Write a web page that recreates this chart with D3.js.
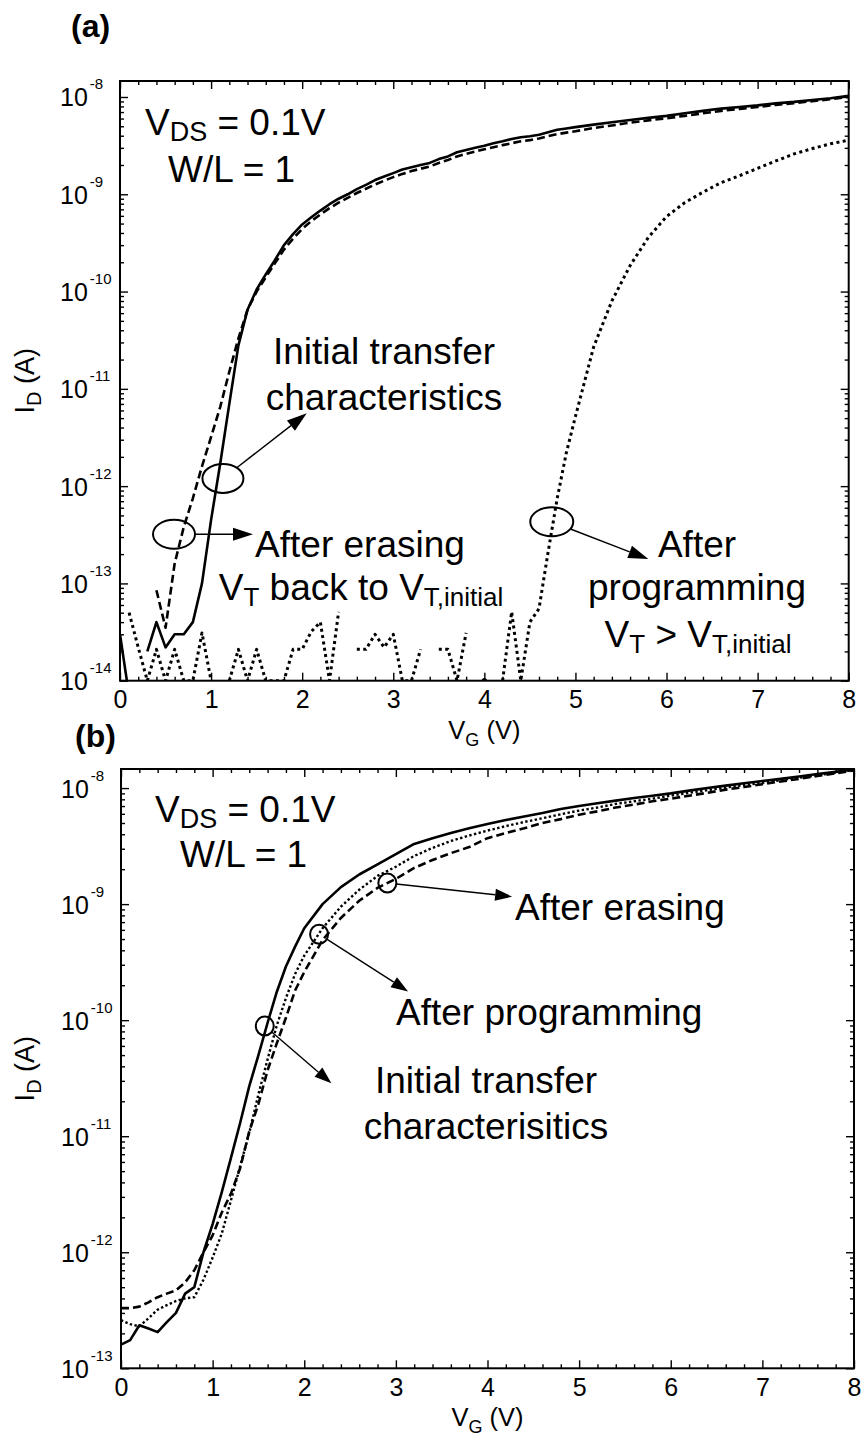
<!DOCTYPE html>
<html>
<head>
<meta charset="utf-8">
<script src="https://cdn.jsdelivr.net/npm/d3@7"></script>
<style>
  body { margin: 0; background: #fff; }
  svg { display: block; }
  text { font-family: Arial, "Liberation Sans", Helvetica, sans-serif; fill: #000; white-space: pre; }
</style>
</head>
<body>
<svg id="fig" width="861" height="1443"></svg>
<script>
// ---------- Panel (a): transfer curves, gate voltage grid (V) ----------
const vgA = [0, 0.1, 0.2, 0.3, 0.4, 0.5, 0.6, 0.7, 0.8, 0.9,
  1.0, 1.1, 1.2, 1.3, 1.4, 1.5, 1.6, 1.7, 1.8, 1.9,
  2.0, 2.1, 2.2, 2.3, 2.4, 2.5, 2.6, 2.7, 2.8, 2.9,
  3.0, 3.1, 3.2, 3.3, 3.4, 3.5, 3.6, 3.7, 3.8, 3.9,
  4.0, 4.1, 4.2, 4.3, 4.4, 4.5, 4.6, 4.7, 4.8, 4.9,
  5.0, 5.2, 5.4, 5.6, 5.8, 6.0, 6.2, 6.4, 6.6, 6.8,
  7.0, 7.2, 7.4, 7.6, 7.8, 8.0];

// Initial transfer characteristics (A)
const idInitialA = [3e-14, 7e-15, null, 2e-14, 4e-14, 2.2e-14, 3e-14, 3e-14, 4e-14, 1.0e-13,
  4.5e-13, 1.7e-12, 7e-12, 2.8e-11, 6.5e-11, 1.05e-10, 1.5e-10, 2.1e-10, 3.0e-10, 3.9e-10,
  4.9e-10, 5.8e-10, 6.8e-10, 7.9e-10, 9.0e-10, 1.0e-9, 1.13e-9, 1.25e-9, 1.4e-9, 1.52e-9,
  1.65e-9, 1.8e-9, 1.9e-9, 2.0e-9, 2.1e-9, 2.3e-9, 2.45e-9, 2.7e-9, 2.85e-9, 3.0e-9,
  3.15e-9, 3.35e-9, 3.5e-9, 3.7e-9, 3.85e-9, 3.95e-9, 4.1e-9, 4.35e-9, 4.6e-9, 4.75e-9,
  4.9e-9, 5.2e-9, 5.5e-9, 5.8e-9, 6.1e-9, 6.4e-9, 6.8e-9, 7.2e-9, 7.6e-9, 7.9e-9,
  8.2e-9, 8.6e-9, 8.9e-9, 9.3e-9, 9.7e-9, 1.03e-8];

// After erasing (A)
const idErasedA = [null, null, null, null, 8.5e-14, 3.5e-14, 1.6e-13, 3.8e-13, 7.5e-13, 1.6e-12,
  3.2e-12, 6.5e-12, 1.5e-11, 3.3e-11, 6.5e-11, 1.0e-10, 1.4e-10, 1.95e-10, 2.7e-10, 3.5e-10,
  4.4e-10, 5.3e-10, 6.2e-10, 7.2e-10, 8.2e-10, 9.2e-10, 1.03e-9, 1.14e-9, 1.26e-9, 1.38e-9,
  1.5e-9, 1.62e-9, 1.73e-9, 1.83e-9, 1.93e-9, 2.1e-9, 2.25e-9, 2.45e-9, 2.6e-9, 2.75e-9,
  2.9e-9, 3.05e-9, 3.2e-9, 3.35e-9, 3.5e-9, 3.6e-9, 3.75e-9, 3.95e-9, 4.15e-9, 4.3e-9,
  4.45e-9, 4.8e-9, 5.1e-9, 5.45e-9, 5.75e-9, 6.05e-9, 6.4e-9, 6.8e-9, 7.2e-9, 7.55e-9,
  7.9e-9, 8.3e-9, 8.65e-9, 9.05e-9, 9.5e-9, 1.0e-8];

// After programming (A); gaps are points below the instrument floor
const idProgrammedA = [null, 5e-14, 2.2e-14, 1e-14, 2.1e-14, 1e-14, 2.1e-14, 1e-14, 1e-14, 3.1e-14,
  1e-14, null, 1e-14, 2.1e-14, 1e-14, 2.1e-14, 1e-14, 1e-14, 1e-14, 2.1e-14,
  2.1e-14, 3.2e-14, 4e-14, 1e-14, 5.1e-14, null, 2.1e-14, 2.1e-14, 3e-14, 2.2e-14,
  3e-14, 1e-14, 1e-14, 2.1e-14, null, 2.1e-14, 2.1e-14, 1e-14, 3.1e-14, null,
  1e-14, null, 1e-14, 5.1e-14, 1e-14, 4e-14, 5.5e-14, 2.1e-13, 7.5e-13, 2.2e-12,
  5.2e-12, 2.7e-11, 8e-11, 1.85e-10, 3.6e-10, 5.9e-10, 8.2e-10, 1.05e-9, 1.32e-9, 1.55e-9,
  1.85e-9, 2.2e-9, 2.6e-9, 2.95e-9, 3.3e-9, 3.6e-9];

// ---------- Panel (b) ----------
const vgB = [0, 0.1, 0.2, 0.3, 0.4, 0.5, 0.6, 0.7, 0.8, 0.9,
  1.0, 1.1, 1.2, 1.3, 1.4, 1.5, 1.6, 1.7, 1.8, 1.9,
  2.0, 2.2, 2.4, 2.6, 2.8, 3.0, 3.2, 3.4, 3.6, 3.8,
  4.0, 4.2, 4.4, 4.6, 4.8, 5.0, 5.2, 5.4, 5.6, 5.8,
  6.0, 6.2, 6.4, 6.6, 6.8, 7.0, 7.2, 7.4, 7.6, 7.8, 8.0];

const idInitialB = [1.6e-13, 1.75e-13, 2.35e-13, 2.2e-13, 2.05e-13, 2.5e-13, 3.0e-13, 4.4e-13, 5.0e-13, 1.0e-12,
  1.75e-12, 3.3e-12, 6.5e-12, 1.3e-11, 2.7e-11, 5.0e-11, 9.5e-11, 1.75e-10, 2.9e-10, 4.3e-10,
  6.2e-10, 1.0e-9, 1.4e-9, 1.8e-9, 2.2e-9, 2.7e-9, 3.3e-9, 3.7e-9, 4.1e-9, 4.5e-9,
  4.9e-9, 5.3e-9, 5.7e-9, 6.1e-9, 6.6e-9, 7.0e-9, 7.4e-9, 7.8e-9, 8.2e-9, 8.6e-9,
  9.0e-9, 9.5e-9, 1.0e-8, 1.05e-8, 1.1e-8, 1.15e-8, 1.2e-8, 1.26e-8, 1.32e-8, 1.38e-8, 1.45e-8];

const idErasedB = [3.3e-13, 3.3e-13, 3.4e-13, 3.7e-13, 4.1e-13, 4.4e-13, 4.7e-13, 5.5e-13, 7.0e-13, 1.0e-12,
  1.4e-12, 2.2e-12, 3.2e-12, 5.3e-12, 1.1e-11, 1.9e-11, 3.7e-11, 6.3e-11, 1.05e-10, 1.8e-10,
  2.6e-10, 4.9e-10, 7.6e-10, 1.07e-9, 1.38e-9, 1.65e-9, 2.05e-9, 2.4e-9, 2.75e-9, 3.1e-9,
  3.7e-9, 4.1e-9, 4.5e-9, 5.0e-9, 5.4e-9, 5.9e-9, 6.3e-9, 6.8e-9, 7.2e-9, 7.7e-9,
  8.1e-9, 8.6e-9, 9.1e-9, 9.7e-9, 1.02e-8, 1.08e-8, 1.14e-8, 1.2e-8, 1.27e-8, 1.34e-8, 1.42e-8];

const idProgrammedB = [2.6e-13, 2.4e-13, 2.3e-13, 2.7e-13, 3.2e-13, 3.5e-13, 3.8e-13, 4.0e-13, 4.1e-13, 5.8e-13,
  9e-13, 1.45e-12, 2.8e-12, 5.5e-12, 1.07e-11, 2.3e-11, 4.6e-11, 9e-11, 1.55e-10, 2.5e-10,
  3.6e-10, 6.2e-10, 9.5e-10, 1.33e-9, 1.75e-9, 2.1e-9, 2.6e-9, 3.05e-9, 3.5e-9, 3.9e-9,
  4.3e-9, 4.7e-9, 5.1e-9, 5.5e-9, 5.95e-9, 6.4e-9, 6.8e-9, 7.3e-9, 7.7e-9, 8.1e-9,
  8.6e-9, 9.1e-9, 9.6e-9, 1.01e-8, 1.06e-8, 1.11e-8, 1.17e-8, 1.23e-8, 1.29e-8, 1.36e-8, 1.43e-8];

// Tick values
const xMajorTicks = [0, 1, 2, 3, 4, 5, 6, 7, 8];
const decadesA = [-14, -13, -12, -11, -10, -9, -8];
const decadesB = [-13, -12, -11, -10, -9, -8];
const yTop = 1.46e-8;

// ---------- drawing ----------
const svg = d3.select('#fig');
const FONT = 'Arial, "Liberation Sans", Helvetica, sans-serif';

const STYLES = {
  solid:  { width: 2.6, dash: null },
  dashed: { width: 2.6, dash: '8,4' },
  dottedA: { width: 3, dash: '3,3.4' },
  dottedB: { width: 2.4, dash: '2.4,2.4' }
};

function rich(g, x, y, parts, o) {
  const t = g.append('text').attr('x', x).attr('y', y)
    .attr('font-size', o.size).attr('text-anchor', o.anchor || 'start');
  if (o.weight) t.attr('font-weight', o.weight);
  if (o.transform) t.attr('transform', o.transform);
  let shift = 0;
  parts.forEach(p => {
    const target = p.sub ? o.subShift : 0;
    const ts = t.append('tspan').text(p.t);
    if (target - shift !== 0) ts.attr('dy', target - shift);
    if (p.sub) ts.attr('font-size', o.subSize);
    shift = target;
  });
  return t;
}

function arrow(g, c, rx, ry, tip, headLen, headHalf) {
  const dx = tip[0] - c[0], dy = tip[1] - c[1];
  const k = 1 / Math.sqrt((dx / rx) ** 2 + (dy / ry) ** 2);
  const start = [c[0] + k * dx, c[1] + k * dy];
  const L = Math.hypot(dx, dy), ux = dx / L, uy = dy / L;
  const base = [tip[0] - ux * headLen, tip[1] - uy * headLen];
  g.append('ellipse').attr('cx', c[0]).attr('cy', c[1]).attr('rx', rx).attr('ry', ry)
    .attr('fill', 'none').attr('stroke', '#000').attr('stroke-width', 2);
  g.append('line').attr('x1', start[0]).attr('y1', start[1]).attr('x2', base[0]).attr('y2', base[1])
    .attr('stroke', '#000').attr('stroke-width', 1.4);
  g.append('polygon').attr('points', [
    tip, [base[0] - uy * headHalf, base[1] + ux * headHalf], [base[0] + uy * headHalf, base[1] - ux * headHalf]
  ].map(p => p.join(',')).join(' ')).attr('fill', '#000');
}

function drawPanel(p) {
  const x = d3.scaleLinear().domain([0, 8]).range([p.left, p.right]);
  const y = d3.scaleLog().domain([Math.pow(10, p.decades[0]), yTop]).range([p.bottom, p.top]);
  const g = svg.append('g');

  const clipId = 'clip-' + p.id;
  svg.append('clipPath').attr('id', clipId).append('rect')
    .attr('x', p.left).attr('y', p.top).attr('width', p.right - p.left).attr('height', p.bottom - p.top);

  // curves
  const line = d3.line().defined(d => d[1] != null).x(d => x(d[0])).y(d => y(d[1]));
  const curves = g.append('g').attr('clip-path', `url(#${clipId})`);
  p.series.forEach(s => {
    const pts = p.vg.map((v, i) => [v, s.values[i]]);
    const st = STYLES[s.style];
    curves.append('path').datum(pts).attr('d', line)
      .attr('fill', 'none').attr('stroke', '#000').attr('stroke-width', st.width)
      .attr('stroke-dasharray', st.dash).attr('stroke-linejoin', 'round');
    // single readings between gaps appear as dots
    pts.forEach((d, i) => {
      if (d[1] == null) return;
      const prev = i > 0 ? pts[i - 1][1] : null, next = i < pts.length - 1 ? pts[i + 1][1] : null;
      if (prev == null && next == null)
        curves.append('circle').attr('cx', x(d[0])).attr('cy', y(d[1])).attr('r', 2.6).attr('fill', '#000');
    });
  });

  // axes
  const xMinor = d3.range(0, 41).map(i => i * 0.2).filter(v => Math.abs(v - Math.round(v)) > 1e-6);
  const yMajor = p.decades.map(e => Math.pow(10, e));
  const yMinor = [];
  p.decades.forEach(e => { for (let m = 2; m <= 9; m++) { const v = m * Math.pow(10, e); if (v <= yTop) yMinor.push(v); } });

  const style = sel => sel.call(s => s.select('.domain').remove())
    .attr('font-family', FONT).attr('font-size', 25)
    .call(s => s.selectAll('.tick line').attr('stroke', '#000').attr('stroke-width', 1.4));

  g.append('g').attr('transform', `translate(0,${p.bottom})`)
    .call(d3.axisBottom(x).tickValues(xMajorTicks).tickSizeInner(-8).tickSizeOuter(0).tickPadding(10).tickFormat(d3.format('d')))
    .call(style).call(s => s.selectAll('.tick text').attr('fill', '#000'));
  g.append('g').attr('transform', `translate(0,${p.bottom})`)
    .call(d3.axisBottom(x).tickValues(xMinor).tickSizeInner(-4).tickSizeOuter(0).tickFormat(''))
    .call(style);
  g.append('g').attr('transform', `translate(0,${p.top})`)
    .call(d3.axisTop(x).tickValues(xMajorTicks).tickSizeInner(-8).tickSizeOuter(0).tickFormat(''))
    .call(style);
  g.append('g').attr('transform', `translate(0,${p.top})`)
    .call(d3.axisTop(x).tickValues(xMinor).tickSizeInner(-4).tickSizeOuter(0).tickFormat(''))
    .call(style);

  g.append('g').attr('transform', `translate(${p.left},0)`)
    .call(d3.axisLeft(y).tickValues(yMajor).tickSizeInner(-8).tickSizeOuter(0))
    .call(style)
    .call(s => s.selectAll('.tick text').each(function (d) {
      const t = d3.select(this);
      const e = Math.round(Math.log10(d));
      t.text(null).attr('x', p.labelX - p.left).attr('y', 9).attr('dy', null)
        .attr('text-anchor', 'start').attr('fill', '#000');
      t.append('tspan').text('10');
      t.append('tspan').attr('dx', 2).attr('dy', -17).attr('font-size', 15).text(String(e));
    }));
  g.append('g').attr('transform', `translate(${p.left},0)`)
    .call(d3.axisLeft(y).tickValues(yMinor).tickSizeInner(-4).tickSizeOuter(0).tickFormat(''))
    .call(style);
  g.append('g').attr('transform', `translate(${p.right},0)`)
    .call(d3.axisRight(y).tickValues(yMajor).tickSizeInner(-8).tickSizeOuter(0).tickFormat(''))
    .call(style);
  g.append('g').attr('transform', `translate(${p.right},0)`)
    .call(d3.axisRight(y).tickValues(yMinor).tickSizeInner(-4).tickSizeOuter(0).tickFormat(''))
    .call(style);

  // frame
  g.append('rect').attr('x', p.left).attr('y', p.top)
    .attr('width', p.right - p.left).attr('height', p.bottom - p.top)
    .attr('fill', 'none').attr('stroke', '#000').attr('stroke-width', 2);

  // axis titles
  rich(g, (p.left + p.right) / 2, p.bottom + 58, [{ t: 'V' }, { t: 'G', sub: true }, { t: ' (V)' }],
    { size: 25.5, subSize: 18, subShift: 7, anchor: 'middle' });
  rich(g, 0, 0, [{ t: 'I' }, { t: 'D', sub: true }, { t: ' (A)' }],
    { size: 27, subSize: 20, subShift: 7, anchor: 'middle',
      transform: `translate(34,${(p.top + p.bottom) / 2}) rotate(-90)` });

  // panel tag
  rich(g, p.tag.x, p.tag.y, [{ t: p.tag.text }], { size: 32, weight: 'bold' });

  // annotations
  const ann = g.append('g');
  p.markers.forEach(m => arrow(ann, [x(m.at[0]), y(m.at[1])], m.rx, m.ry, [x(m.tip[0]), y(m.tip[1])], m.headLen, m.headHalf));
  p.labels.forEach(l => rich(ann, l.x, l.y, l.parts, { size: 37, subSize: l.subSize || 26, subShift: 6, anchor: l.anchor }));
}

const sub = (t) => ({ t, sub: true });

drawPanel({
  id: 'a', left: 120, right: 848.7, top: 81, bottom: 680.7, labelX: 60,
  decades: decadesA, vg: vgA,
  tag: { text: '(a)', x: 71, y: 37 },
  series: [
    { values: idInitialA, style: 'solid' },
    { values: idErasedA, style: 'dashed' },
    { values: idProgrammedA, style: 'dottedA' }
  ],
  markers: [
    { at: [1.13, 1.2e-12], rx: 20.5, ry: 14.5, tip: [2.05, 5.6e-12], headLen: 20, headHalf: 6.5 },
    { at: [0.593, 3.2e-13], rx: 21, ry: 14.5, tip: [1.46, 3.2e-13], headLen: 20, headHalf: 6.5 },
    { at: [4.74, 4.3e-13], rx: 21.5, ry: 14.5, tip: [5.80, 1.78e-13], headLen: 20, headHalf: 6.5 }
  ],
  labels: [
    { x: 145, y: 135, parts: [{ t: 'V' }, sub('DS'), { t: ' = 0.1V' }], subSize: 27 },
    { x: 168, y: 182, parts: [{ t: 'W/L = 1' }] },
    { x: 384, y: 364, anchor: 'middle', parts: [{ t: 'Initial transfer' }] },
    { x: 384, y: 410, anchor: 'middle', parts: [{ t: 'characteristics' }] },
    { x: 360, y: 557, anchor: 'middle', parts: [{ t: 'After erasing' }] },
    { x: 361, y: 600, anchor: 'middle', parts: [{ t: 'V' }, sub('T'), { t: ' back to V' }, sub('T,initial')] },
    { x: 697, y: 557, anchor: 'middle', parts: [{ t: 'After' }] },
    { x: 697, y: 600, anchor: 'middle', parts: [{ t: 'programming' }] },
    { x: 698, y: 647, anchor: 'middle', parts: [{ t: 'V' }, sub('T'), { t: ' > V' }, sub('T,initial')] }
  ]
});

drawPanel({
  id: 'b', left: 121, right: 854, top: 769, bottom: 1368.3, labelX: 61,
  decades: decadesB, vg: vgB,
  tag: { text: '(b)', x: 75, y: 747 },
  series: [
    { values: idInitialB, style: 'solid' },
    { values: idErasedB, style: 'dashed' },
    { values: idProgrammedB, style: 'dottedB' }
  ],
  markers: [
    { at: [2.907, 1.52e-9], rx: 9, ry: 9.5, tip: [4.269, 1.16e-9], headLen: 17, headHalf: 6 },
    { at: [2.162, 5.5e-10], rx: 9, ry: 9.5, tip: [3.133, 1.77e-10], headLen: 17, headHalf: 6 },
    { at: [1.569, 8.9e-11], rx: 9, ry: 9.5, tip: [2.296, 2.86e-11], headLen: 17, headHalf: 6 }
  ],
  labels: [
    { x: 155, y: 822, parts: [{ t: 'V' }, sub('DS'), { t: ' = 0.1V' }], subSize: 27 },
    { x: 180, y: 867, parts: [{ t: 'W/L = 1' }] },
    { x: 515, y: 920, parts: [{ t: 'After erasing' }] },
    { x: 396, y: 1025, parts: [{ t: 'After programming' }] },
    { x: 486, y: 1093, anchor: 'middle', parts: [{ t: 'Initial transfer' }] },
    { x: 486, y: 1139, anchor: 'middle', parts: [{ t: 'characterisitics' }] }
  ]
});
</script>
</body>
</html>
